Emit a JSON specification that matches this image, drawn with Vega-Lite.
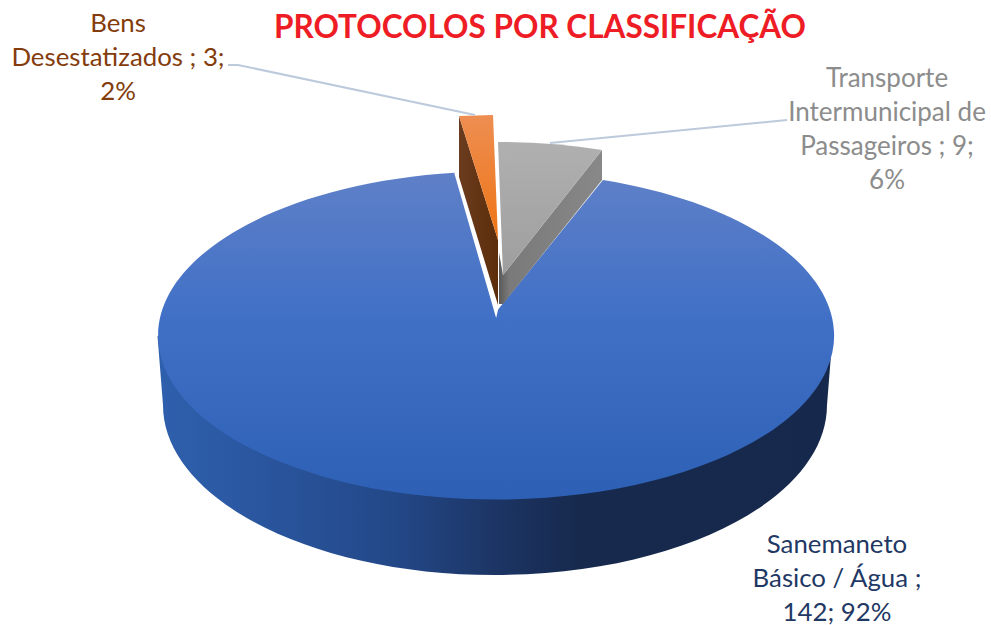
{
"$schema":"https://vega.github.io/schema/vega-lite/v6.json",
"width":991,"height":625,"padding":0,"autosize":"none",
"background":"white",
"config":{"view":{"stroke":null}},
"title":{"text":"PROTOCOLOS POR CLASSIFICAÇÃO","font":"Lato","fontSize":31.5,"fontWeight":"bold","color":"#ee1c25","anchor":"start","frame":"group","dx":274,"offset":-44},
"data":{"values":[
{"categoria":"Sanemaneto Básico / Água","protocolos":142,"percentual":92,"rotulo":"Sanemaneto\nBásico / Água ;\n142; 92%"},
{"categoria":"Bens Desestatizados","protocolos":3,"percentual":2,"rotulo":"Bens\nDesestatizados ; 3;\n2%"},
{"categoria":"Transporte Intermunicipal de Passageiros","protocolos":9,"percentual":6,"rotulo":"Transporte\nIntermunicipal de\nPassageiros ; 9;\n6%"}
]},
"layer":[
{"transform":[{"filter":"datum.protocolos==142"}],"mark":{"type":"point","filled":true,"opacity":1,"size":4,"strokeWidth":0,"shape":"M337,23.5L-338,23.5L-332.5,92.5A332,170,0,0,0,331.5,92.5Z","fill":{"gradient":"linear","x1":0,"y1":0,"x2":1,"y2":0,"stops":[{"offset":0,"color":"#2f60ad"},{"offset":0.15,"color":"#2a569f"},{"offset":0.35,"color":"#234888"},{"offset":0.5,"color":"#1c3565"},{"offset":0.62,"color":"#172a4e"},{"offset":1,"color":"#16294c"}]}}},
{"transform":[{"filter":"datum.protocolos==142"}],"mark":{"type":"point","filled":true,"opacity":1,"size":4,"strokeWidth":0,"shape":"M0.5,-0.5L107.5,-132.5A338,164,0,1,1,-40.5,-139.7Z","fill":{"gradient":"linear","x1":0,"y1":0,"x2":0,"y2":1,"stops":[{"offset":0,"color":"#5f80c8"},{"offset":0.45,"color":"#4070c6"},{"offset":1,"color":"#2d60b5"}]}}},
{"transform":[{"filter":"datum.protocolos==142"}],"mark":{"type":"point","filled":false,"opacity":1,"size":4,"strokeWidth":2.5,"stroke":"white","shape":"M-40,-139.5L0.5,0.5L2.5,-8"}},
{"transform":[{"filter":"datum.protocolos==3"}],"mark":{"type":"point","filled":true,"opacity":1,"size":4,"strokeWidth":0,"shape":"M-36.5,-196.5L2.5,-72.5L2.5,-7.5L-36.5,-135.5Z","fill":{"gradient":"linear","x1":0,"y1":0,"x2":1,"y2":0,"stops":[{"offset":0,"color":"#6b3b1e"},{"offset":1,"color":"#5c2e0a"}]}}},
{"transform":[{"filter":"datum.protocolos==3"}],"mark":{"type":"point","filled":true,"opacity":1,"size":4,"strokeWidth":0,"shape":"M-36.5,-196.5L-2.5,-197.5L2.5,-72.5Z","fill":{"gradient":"linear","x1":0,"y1":0,"x2":0,"y2":1,"stops":[{"offset":0,"color":"#ee8e52"},{"offset":1,"color":"#ee7414"}]}}},
{"transform":[{"filter":"datum.protocolos==9"}],"mark":{"type":"point","filled":true,"opacity":1,"size":4,"strokeWidth":0,"shape":"M106.5,-162.5L106.5,-132.5L7.5,-8.5L3.5,-8.5L3.5,-60L7.5,-37.5Z","fill":{"gradient":"linear","x1":0,"y1":0,"x2":1,"y2":0,"stops":[{"offset":0,"color":"#5a5a5a"},{"offset":0.1,"color":"#7a7a7a"},{"offset":1,"color":"#888888"}]}}},
{"transform":[{"filter":"datum.protocolos==9"}],"mark":{"type":"point","filled":true,"opacity":1,"size":4,"strokeWidth":0,"shape":"M2.5,-170.5A338,164,0,0,1,106.5,-162.5L7.5,-37.5Z","fill":{"gradient":"linear","x1":0,"y1":0,"x2":0,"y2":1,"stops":[{"offset":0,"color":"#b0b0b0"},{"offset":1,"color":"#9e9e9e"}]}}},
{"transform":[{"filter":"datum.protocolos==3"}],"mark":{"type":"point","filled":false,"opacity":1,"size":4,"strokeWidth":2,"stroke":"#bccadb","shape":"M-267.5,-247.5L-257.5,-247.5L-20.5,-197.5"}},
{"transform":[{"filter":"datum.protocolos==9"}],"mark":{"type":"point","filled":false,"opacity":1,"size":4,"strokeWidth":2,"stroke":"#bccadb","shape":"M54.5,-169.5L291.5,-192.5"}},
{"transform":[{"filter":"datum.protocolos==3"}],"mark":{"type":"text","font":"Lato","fontSize":25.8,"lineHeight":34,"lineBreak":"\n","align":"center","baseline":"alphabetic","dx":-377.5,"dy":-280.5,"color":"#843c0c"},"encoding":{"text":{"field":"rotulo"}}},
{"transform":[{"filter":"datum.protocolos==9"}],"mark":{"type":"text","font":"Lato","fontSize":26,"lineHeight":34,"lineBreak":"\n","align":"center","baseline":"alphabetic","dx":391.5,"dy":-225.5,"color":"#8c8c8c"},"encoding":{"text":{"field":"rotulo"}}},
{"transform":[{"filter":"datum.protocolos==142"}],"mark":{"type":"text","font":"Lato","fontSize":25.8,"lineHeight":34,"lineBreak":"\n","align":"center","baseline":"alphabetic","dx":341.5,"dy":240.5,"color":"#1f3864"},"encoding":{"text":{"field":"rotulo"}}}
]
}
